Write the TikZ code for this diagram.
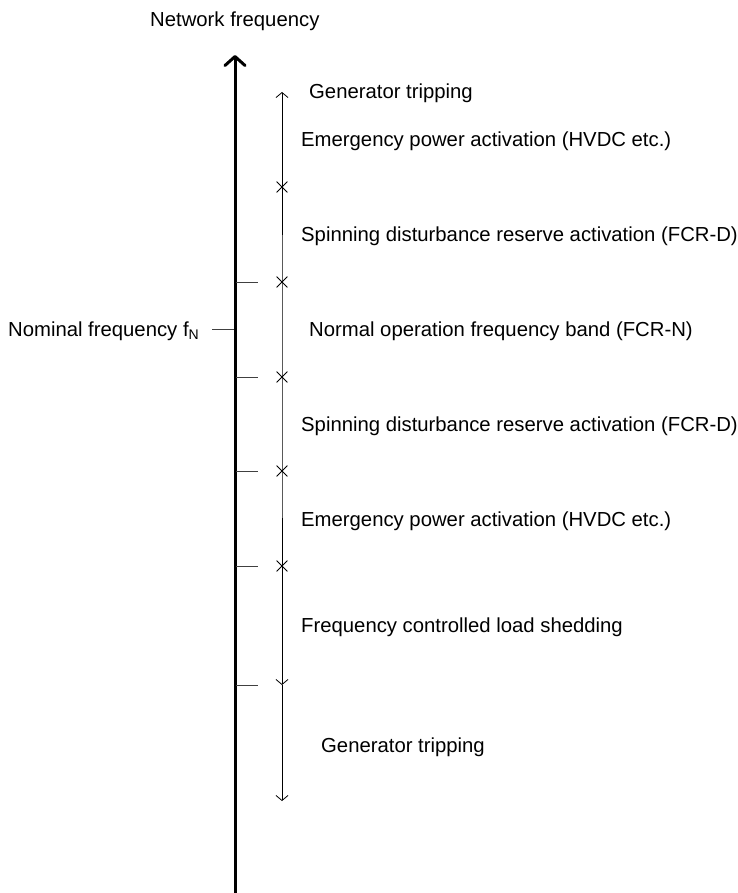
\documentclass[tikz,border=0pt]{standalone}
\usepackage{fontspec}
\setmainfont{Liberation Sans}
\usetikzlibrary{arrows.meta,shapes.misc}
\begin{document}
\begin{tikzpicture}[x=1pt,y=-1pt,
  lbl/.style={anchor=base west, inner sep=0pt, font=\fontsize{20.3}{24}\selectfont},
  xmark/.style={cross out, draw, minimum size=10pt, inner sep=0pt, line width=0.8pt},
  tickline/.style={line width=0.9pt, draw=black!75},
  thinline/.style={line width=0.9pt},
  thinarrow/.style={thinline, -{Straight Barb[length=5pt,width=12pt,line width=0.8pt]}},
  axisline/.style={line width=3pt, -{Straight Barb[length=9pt,width=20pt,round]}}
]
\useasboundingbox (0,0) rectangle (737,893);

% frequency axis
\coordinate (axbot) at (235,893);
\coordinate (axtop) at (235,55);
\draw[axisline] (axbot) -- (axtop);
\node[lbl] (axlbl) at (150,27) {Network frequency};

% nominal frequency marker
\coordinate (nomL) at (212,329);
\coordinate (nomR) at (234,329);
\draw[tickline] (nomL) -- (nomR);
\node[lbl, anchor=base east] (nom) at (199,336)
  {Nominal frequency f\raisebox{-0.35ex}{\fontsize{14}{14}\selectfont N}};

% band limits on the axis
\foreach \y in {282,377,471,566,685}
  \draw[tickline] (236,\y) -- (258,\y);

% band scale
\coordinate (top) at (282,92);
\node[xmark] (m1) at (282,187) {};
\node[xmark] (m2) at (282,282) {};
\node[xmark] (m3) at (282,377) {};
\node[xmark] (m4) at (282,471) {};
\node[xmark] (m5) at (282,566) {};
\coordinate (d1) at (282,685);
\coordinate (d2) at (282,801);
\draw[thinarrow] (m1.center) -- (top);
\draw[thinline] (m1.center) -- (m2.center) -- (m3.center) -- (m4.center) -- (m5.center);
\draw[thinarrow] (m5.center) -- (d1);
\draw[thinarrow] (d1) -- (d2);

% band descriptions
\node[lbl] (b1) at (309,99)  {Generator tripping};
\node[lbl] (b2) at (301,147) {Emergency power activation (HVDC etc.)};
\node[lbl] (b3) at (301,241) {Spinning disturbance reserve activation (FCR-D)};
\node[lbl] (b4) at (309,336) {Normal operation frequency band (FCR-N)};
\node[lbl] (b5) at (301,431) {Spinning disturbance reserve activation (FCR-D)};
\node[lbl] (b6) at (301,526) {Emergency power activation (HVDC etc.)};
\node[lbl] (b7) at (301,632) {Frequency controlled load shedding};
\node[lbl] (b8) at (321,752) {Generator tripping};
\end{tikzpicture}
\end{document}
